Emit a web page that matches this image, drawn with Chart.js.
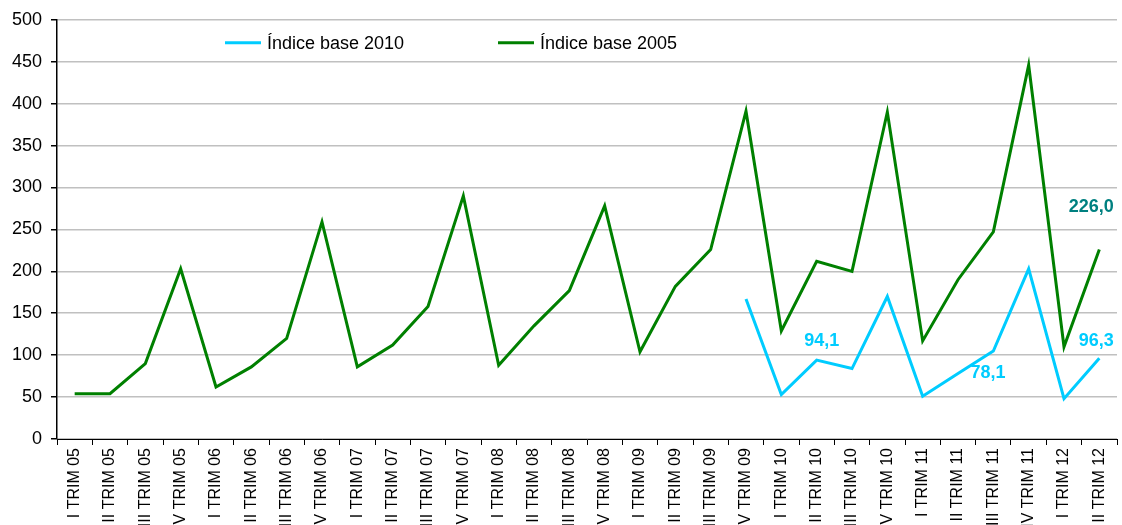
<!DOCTYPE html>
<html>
<head>
<meta charset="utf-8">
<script src="https://cdn.jsdelivr.net/npm/chart.js@4.4.1/dist/chart.umd.min.js"></script>
<style>
  html, body { margin: 0; padding: 0; background: #fff; }
  #wrap { width: 1122px; height: 525px; position: relative; }
</style>
</head>
<body>
<div id="wrap"><canvas id="grafico"></canvas></div>
<script>
// trimestres
const trimestres = [
    "I TRIM 05", "II TRIM 05", "III TRIM 05", "IV TRIM 05",
    "I TRIM 06", "II TRIM 06", "III TRIM 06", "IV TRIM 06",
    "I TRIM 07", "II TRIM 07", "III TRIM 07", "IV TRIM 07",
    "I TRIM 08", "II TRIM 08", "III TRIM 08", "IV TRIM 08",
    "I TRIM 09", "II TRIM 09", "III TRIM 09", "IV TRIM 09",
    "I TRIM 10", "II TRIM 10", "III TRIM 10", "IV TRIM 10",
    "I TRIM 11", "II TRIM 11", "III TRIM 11", "IV TRIM 11",
    "I TRIM 12", "II TRIM 12"
];

const base2005 = [
    54, 54, 90, 203,
    62, 86, 120, 259,
    86, 112, 158, 290,
    88, 135, 177, 278,
    104, 182, 226, 391,
    129, 212, 200, 390,
    117, 190, 247, 446,
    110, 226.0
];

const base2010 = [
    null, null, null, null,
    null, null, null, null,
    null, null, null, null,
    null, null, null, null,
    null, null, null, 167,
    53, 94.1, 84, 170,
    51, 78.1, 105, 203,
    48, 96.3
];

const yTicks = [0, 50, 100, 150, 200, 250, 300, 350, 400, 450, 500];

// pontos com rótulo: [dataset, índice]
const rotulos = [[0, 21], [0, 25], [0, 29], [1, 29]];

const COR_2010 = "#00CCFF";
const COR_2005 = "#008000";
const FONTE = "'Liberation Sans', Arial, sans-serif";

// legenda desenhada dentro da área do gráfico
const legendaPlugin = {
    id: "legendaInterna",
    afterDraw(chart) {
        const ctx = chart.ctx;
        const a = chart.chartArea;
        const itens = [
            { x: a.left + 168, texto: "Índice base 2010", cor: COR_2010 },
            { x: a.left + 441, texto: "Índice base 2005", cor: COR_2005 }
        ];
        const y = a.top + 23;
        ctx.save();
        ctx.font = "18px " + FONTE;
        ctx.textBaseline = "middle";
        ctx.textAlign = "left";
        itens.forEach(it => {
            ctx.strokeStyle = it.cor;
            ctx.lineWidth = 3;
            ctx.beginPath();
            ctx.moveTo(it.x, y);
            ctx.lineTo(it.x + 36, y);
            ctx.stroke();
            ctx.fillStyle = "#000";
            ctx.fillText(it.texto, it.x + 42, y + 1);
        });
        ctx.restore();
    }
};

// rótulos de valores
const rotulosPlugin = {
    id: "rotulos",
    afterDatasetsDraw(chart) {
        const ctx = chart.ctx;
        const desloc = {
            "0-21": [5, -19], "0-25": [30, 0], "0-29": [-3, -17], "1-29": [-8, -42]
        };
        ctx.save();
        ctx.font = "bold 18px " + FONTE;
        ctx.textAlign = "center";
        ctx.textBaseline = "middle";
        rotulos.forEach(([ds, i]) => {
            const p = chart.getDatasetMeta(ds).data[i];
            const v = chart.data.datasets[ds].data[i];
            const d = desloc[ds + "-" + i];
            ctx.fillStyle = ds === 0 ? COR_2010 : "#008080";
            ctx.fillText(v.toFixed(1).replace(".", ","), p.x + d[0], p.y + d[1]);
        });
        ctx.restore();
    }
};

const ctx = document.getElementById("grafico").getContext("2d");
new Chart(ctx, {
    type: "line",
    data: {
        labels: trimestres,
        datasets: [
            {
                label: "Índice base 2010",
                data: base2010,
                borderColor: COR_2010,
                borderWidth: 3,
                pointRadius: 0,
                tension: 0,
                spanGaps: false
            },
            {
                label: "Índice base 2005",
                data: base2005,
                borderColor: COR_2005,
                borderWidth: 3,
                pointRadius: 0,
                tension: 0
            }
        ]
    },
    options: {
        responsive: true,
        maintainAspectRatio: false,
        animation: false,
        layout: { padding: { top: 17, right: 5, left: 0, bottom: 0 } },
        plugins: {
            legend: { display: false },
            tooltip: { enabled: false }
        },
        scales: {
            x: {
                offset: true,
                grid: {
                    offset: true,
                    drawOnChartArea: false,
                    drawTicks: true,
                    tickLength: 6,
                    tickColor: "#000"
                },
                border: { color: "#000", width: 1 },
                ticks: {
                    autoSkip: false,
                    maxRotation: 90,
                    minRotation: 90,
                    padding: 3,
                    color: "#000",
                    font: { family: FONTE, size: 16 }
                },
                afterFit(scale) { scale.height = 86; }
            },
            y: {
                min: 0,
                max: 500,
                afterBuildTicks(scale) {
                    scale.ticks = yTicks.map(v => ({ value: v }));
                },
                grid: {
                    color: "#C0C0C0",
                    lineWidth: 1.5,
                    tickLength: 6,
                    tickColor: "#000"
                },
                border: { color: "#000", width: 1.5 },
                ticks: {
                    padding: 9,
                    color: "#000",
                    font: { family: FONTE, size: 18 }
                },
                afterFit(scale) { scale.width = 57; }
            }
        }
    },
    plugins: [legendaPlugin, rotulosPlugin]
});
</script>
</body>
</html>
